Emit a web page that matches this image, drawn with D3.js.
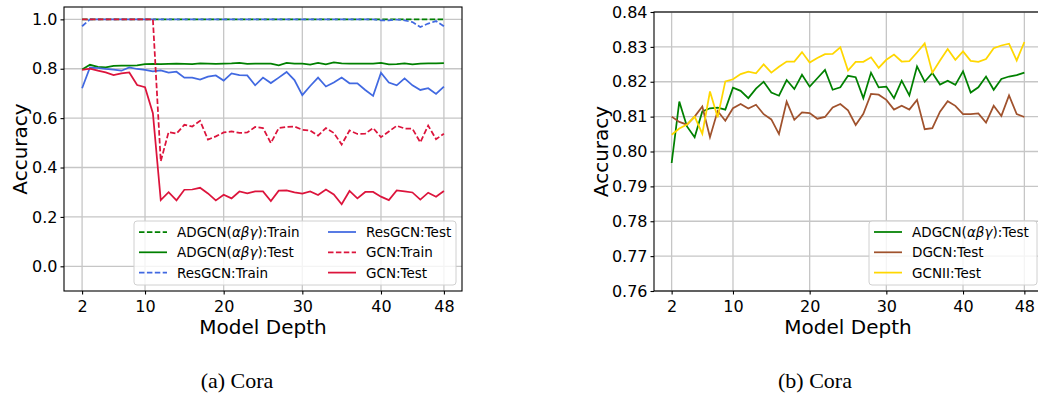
<!DOCTYPE html>
<html lang="en">
<head>
<meta charset="utf-8">
<title>Cora – Accuracy vs Model Depth</title>
<script src="https://cdn.jsdelivr.net/npm/d3@7"></script>
<style>
  body { margin: 0; background: #fff; }
  svg { display: block; font-family: "DejaVu Sans", sans-serif; }
</style>
</head>
<body>
<svg id="chart" width="1038" height="395"></svg>
<script>

// ---- data ----
var depths = [2,3,4,5,6,7,8,9,10,11,12,13,14,15,16,17,18,19,20,21,22,23,24,25,
              26,27,28,29,30,31,32,33,34,35,36,37,38,39,40,41,42,43,44,45,46,47,48];
var xTicks = [2, 10, 20, 30, 40, 48];

// (a) left panel
var adgcnTrainA = [1,1,1,1,1,1,1,1,1,1,1,1,1,1,1,1,1,1,1,1,1,1,1,1,
                   1,1,1,1,1,1,1,1,1,1,1,1,1,1,1,1,1,1,1,1,1,1,1];
var adgcnTestA = [0.797,0.816,0.808,0.806,0.812,0.813,0.813,0.814,0.819,0.820,0.819,0.820,0.821,0.820,0.819,0.822,
                  0.821,0.820,0.821,0.822,0.824,0.820,0.821,0.821,0.821,0.814,0.824,0.821,0.821,0.817,0.824,0.818,
                  0.826,0.822,0.821,0.821,0.821,0.821,0.824,0.818,0.819,0.822,0.818,0.821,0.822,0.822,0.823];
var resTrainA = [0.972,1,1,1,1,1,1,1,1,1,1,1,1,1,1,1,1,1,1,1,1,1,1,1,
                 1,1,1,1,1,1,1,1,1,1,1,1,1,1,0.996,0.996,0.999,0.996,0.989,0.969,0.983,0.993,0.972];
var resTestA = [0.721,0.805,0.803,0.799,0.796,0.792,0.805,0.799,0.795,0.789,0.793,0.784,0.788,0.764,0.764,0.756,
                0.768,0.773,0.752,0.781,0.774,0.773,0.733,0.764,0.742,0.764,0.787,0.754,0.693,0.730,0.764,0.728,
                0.744,0.764,0.741,0.741,0.714,0.690,0.784,0.744,0.733,0.761,0.733,0.714,0.721,0.698,0.728];
var gcnTrainA = [1,1,1,1,1,1,1,1,1,1,0.425,0.544,0.537,0.573,0.566,0.589,
                 0.513,0.526,0.542,0.546,0.540,0.542,0.564,0.560,0.499,0.560,0.564,0.566,0.553,0.550,0.529,0.560,
                 0.540,0.493,0.550,0.536,0.537,0.560,0.523,0.546,0.569,0.558,0.557,0.502,0.570,0.515,0.537];
var gcnTestA = [0.795,0.800,0.792,0.785,0.774,0.781,0.785,0.734,0.725,0.620,0.268,0.300,0.267,0.310,0.311,0.318,
                0.295,0.267,0.290,0.275,0.303,0.295,0.303,0.303,0.264,0.306,0.307,0.299,0.294,0.303,0.289,0.311,
                0.291,0.251,0.305,0.275,0.301,0.301,0.282,0.268,0.307,0.303,0.299,0.270,0.298,0.282,0.305];
var yTicksA = [0.0, 0.2, 0.4, 0.6, 0.8, 1.0];

// (b) right panel
var adgcnTestB = [0.7967,0.8143,0.8072,0.8041,0.8115,0.8124,0.8126,0.8120,0.8183,0.8174,0.8153,0.8180,0.8200,0.8169,0.8160,0.8205,
                  0.8179,0.8220,0.8186,0.8210,0.8234,0.8177,0.8184,0.8217,0.8213,0.8153,0.8226,0.8184,0.8186,0.8153,0.8203,0.8161,
                  0.8244,0.8200,0.8225,0.8192,0.8203,0.8191,0.8230,0.8169,0.8184,0.8215,0.8177,0.8208,0.8215,0.8219,0.8226];
var dgcnTestB = [0.8100,0.8085,0.8077,0.8100,0.8129,0.8041,0.8116,0.8088,0.8124,0.8136,0.8123,0.8134,0.8107,0.8092,0.8050,0.8143,
                 0.8091,0.8112,0.8110,0.8094,0.8099,0.8126,0.8136,0.8118,0.8076,0.8108,0.8165,0.8163,0.8148,0.8120,0.8131,0.8120,
                 0.8148,0.8064,0.8067,0.8114,0.8144,0.8131,0.8107,0.8107,0.8109,0.8083,0.8131,0.8102,0.8161,0.8107,0.8099];
var gcniiTestB = [0.8048,0.8066,0.8077,0.8100,0.8051,0.8172,0.8098,0.8201,0.8207,0.8222,0.8229,0.8224,0.8250,0.8226,0.8243,0.8258,
                  0.8258,0.8285,0.8255,0.8268,0.8279,0.8280,0.8299,0.8232,0.8257,0.8257,0.8270,0.8240,0.8263,0.8278,0.8258,0.8259,
                  0.8284,0.8310,0.8226,0.8261,0.8294,0.8263,0.8287,0.8260,0.8257,0.8265,0.8296,0.8304,0.8309,0.8261,0.8314];
var yTicksB = [0.76, 0.77, 0.78, 0.79, 0.80, 0.81, 0.82, 0.83, 0.84];

// ---- drawing ----
var svg = d3.select("#chart");
svg.append("rect").attr("width", 1038).attr("height", 395).attr("fill", "#fff");

var panels = [
  {
    left: 64, right: 462, top: 7, bottom: 291,
    yDomain: [-0.1, 1.05], yTicks: yTicksA, yFmt: d3.format(".1f"),
    ylabelX: 27, caption: "(a) Cora", captionX: 237,
    series: [
      {label: "ADGCN(αβγ):Train", values: adgcnTrainA, color: "green", dash: true},
      {label: "ADGCN(αβγ):Test",  values: adgcnTestA,  color: "green", dash: false},
      {label: "ResGCN:Train",     values: resTrainA,   color: "royalblue", dash: true},
      {label: "ResGCN:Test",      values: resTestA,    color: "royalblue", dash: false},
      {label: "GCN:Train",        values: gcnTrainA,   color: "crimson", dash: true},
      {label: "GCN:Test",         values: gcnTestA,    color: "crimson", dash: false}
    ],
    legend: {x: 134, y: 221, w: 322, h: 64, cols: [[139, 177], [328, 366]], perCol: 3}
  },
  {
    left: 654, right: 1042, top: 12, bottom: 291,
    yDomain: [0.76, 0.84], yTicks: yTicksB, yFmt: d3.format(".2f"),
    ylabelX: 608, caption: "(b) Cora", captionX: 815,
    series: [
      {label: "ADGCN(αβγ):Test", values: adgcnTestB, color: "green", dash: false},
      {label: "DGCN:Test",       values: dgcnTestB,  color: "sienna", dash: false},
      {label: "GCNII:Test",      values: gcniiTestB, color: "gold", dash: false}
    ],
    legend: {x: 869, y: 221, w: 168, h: 64, cols: [[874, 912]], perCol: 3}
  }
];

function addLabel(sel, label) {
  // render αβγ in italics like matplotlib mathtext
  var parts = label.split("αβγ");
  sel.append("tspan").text(parts[0]);
  if (parts.length > 1) {
    sel.append("tspan").attr("font-style", "italic").text("αβγ");
    sel.append("tspan").text(parts[1]);
  }
}

panels.forEach(function (p) {
  var x = d3.scaleLinear().domain([-0.3, 50.3]).range([p.left, p.right]);
  var y = d3.scaleLinear().domain(p.yDomain).range([p.bottom, p.top]);
  var g = svg.append("g");

  // grid
  g.selectAll(".vgrid").data(xTicks).enter().append("line")
    .attr("x1", function (d) { return x(d); }).attr("x2", function (d) { return x(d); })
    .attr("y1", p.top).attr("y2", p.bottom)
    .attr("stroke", "#c6c6c6").attr("stroke-width", 1.3);
  g.selectAll(".hgrid").data(p.yTicks).enter().append("line")
    .attr("y1", function (d) { return y(d); }).attr("y2", function (d) { return y(d); })
    .attr("x1", p.left).attr("x2", p.right)
    .attr("stroke", "#c6c6c6").attr("stroke-width", 1.3);

  // lines
  var line = d3.line()
    .x(function (d, i) { return x(depths[i]); })
    .y(function (d) { return y(d); });
  p.series.forEach(function (s) {
    g.append("path")
      .attr("d", line(s.values))
      .attr("fill", "none")
      .attr("stroke", s.color)
      .attr("stroke-width", 1.75)
      .attr("stroke-dasharray", s.dash ? "5.5,2.4" : null);
  });

  // frame
  g.append("rect")
    .attr("x", p.left).attr("y", p.top)
    .attr("width", p.right - p.left).attr("height", p.bottom - p.top)
    .attr("fill", "none").attr("stroke", "#000").attr("stroke-width", 1.1);

  // axes
  var xAxis = g.append("g").attr("transform", "translate(0," + p.bottom + ")")
    .call(d3.axisBottom(x).tickValues(xTicks).tickSize(3.5).tickPadding(3).tickSizeOuter(0));
  xAxis.select(".domain").remove();
  xAxis.selectAll("text").attr("dy", "0.93em");

  var yAxis = g.append("g").attr("transform", "translate(" + p.left + ",0)")
    .call(d3.axisLeft(y).tickValues(p.yTicks).tickFormat(p.yFmt).tickSize(3.5).tickPadding(3).tickSizeOuter(0));
  yAxis.select(".domain").remove();

  g.selectAll(".tick text").attr("font-family", "DejaVu Sans").attr("font-size", 16).attr("fill", "#000");
  g.selectAll(".tick line").attr("stroke", "#000").attr("stroke-width", 1.1);

  // axis titles
  g.append("text")
    .attr("x", (p.left + p.right) / 2).attr("y", 334)
    .attr("text-anchor", "middle").attr("font-size", 20)
    .text("Model Depth");
  g.append("text")
    .attr("transform", "translate(" + p.ylabelX + "," + ((p.top + p.bottom) / 2) + ") rotate(-90)")
    .attr("text-anchor", "middle").attr("font-size", 20)
    .text("Accuracy");

  // legend
  var L = p.legend;
  g.append("rect")
    .attr("x", L.x).attr("y", L.y).attr("width", L.w).attr("height", L.h)
    .attr("rx", 3).attr("fill", "#fff").attr("fill-opacity", 0.8)
    .attr("stroke", "#d0d0d0").attr("stroke-width", 1);
  p.series.forEach(function (s, i) {
    var col = L.cols[Math.floor(i / L.perCol)];
    var ry = L.y + 11 + (i % L.perCol) * 20.3;
    g.append("line")
      .attr("x1", col[0]).attr("x2", col[0] + 28)
      .attr("y1", ry).attr("y2", ry)
      .attr("stroke", s.color).attr("stroke-width", 1.75)
      .attr("stroke-dasharray", s.dash ? "5.5,2.4" : null);
    var t = g.append("text")
      .attr("x", col[1]).attr("y", ry + 5)
      .attr("font-size", 13.5);
    addLabel(t, s.label);
  });

  // caption
  svg.append("text")
    .attr("x", p.captionX).attr("y", 388)
    .attr("text-anchor", "middle")
    .attr("font-family", "Liberation Serif, serif")
    .attr("font-size", 22)
    .text(p.caption);
});

</script>
</body>
</html>
